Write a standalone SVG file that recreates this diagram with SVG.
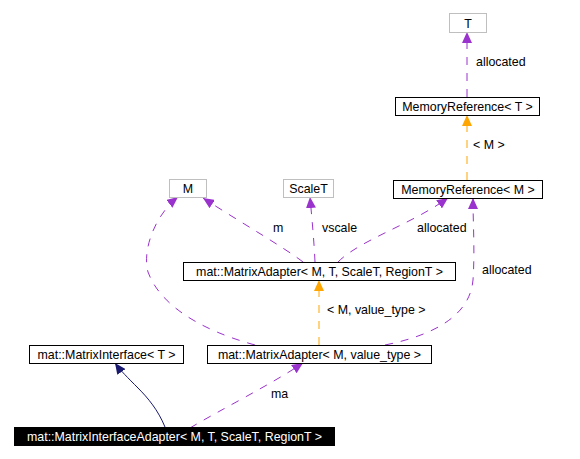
<svg xmlns="http://www.w3.org/2000/svg" width="580" height="459" viewBox="0 0 580 459">
<defs>
<style>
text{font-family:"Liberation Sans",Arial,sans-serif;font-size:12.4px;fill:#000}
.box{fill:#fff;stroke:#000;stroke-width:1}
.gray{fill:#fff;stroke:#bfbfbf;stroke-width:1}
.c{text-anchor:middle}
.p{fill:none;stroke:#9a32cd;stroke-width:1;stroke-dasharray:8,8}
.o{fill:none;stroke:#ffa500;stroke-width:1;stroke-dasharray:8,8}
.n{fill:none;stroke:#191970;stroke-width:1}
</style>
<marker id="ap" markerUnits="userSpaceOnUse" markerWidth="12" markerHeight="10" refX="11" refY="5" orient="auto"><path d="M0,0 L11,5 L0,10 Z" fill="#9a32cd"/></marker>
<marker id="ao" markerUnits="userSpaceOnUse" markerWidth="12" markerHeight="10" refX="11" refY="5" orient="auto"><path d="M0,0 L11,5 L0,10 Z" fill="#ffa500"/></marker>
<marker id="an" markerUnits="userSpaceOnUse" markerWidth="12" markerHeight="10" refX="11" refY="5" orient="auto"><path d="M0,0 L11,5 L0,10 Z" fill="#191970"/></marker>
</defs>
<rect width="580" height="459" fill="#fff"/>
<g id="connectors">
<path class="p" d="M467,97 L467,32" marker-end="url(#ap)"/>
<path class="o" d="M467,180 L467,115" marker-end="url(#ao)"/>
<path class="o" d="M319,345 L319,280" marker-end="url(#ao)"/>
<path class="p" d="M303,262 C285,248 240,222 203,198" marker-end="url(#ap)"/>
<path class="p" d="M315,262 C314,240 312,220 310,197" marker-end="url(#ap)"/>
<path class="p" d="M338,262 C360,240 410,225 448,198" marker-end="url(#ap)"/>
<path class="p" d="M255,345 C200,330 160,305 148,272 C142,250 155,215 178,197" marker-end="url(#ap)"/>
<path class="p" d="M385,345 C435,335 470,315 473,280 C475,250 473,225 473,198" marker-end="url(#ap)"/>
<path class="n" d="M165,427 C158,410 148,398 138,388 C128,378 120,370 115,363" marker-end="url(#an)"/>
<path class="p" d="M190,428 C220,410 270,385 303,363" marker-end="url(#ap)"/>
<text x="476" y="66">allocated</text>
<text x="473" y="149">&lt; M &gt;</text>
<text x="273" y="232">m</text>
<text x="322" y="232">vscale</text>
<text x="417" y="232">allocated</text>
<text x="389" y="275">m</text>
<text x="482" y="274">allocated</text>
<text x="327" y="314">&lt; M, value_type &gt;</text>
<text x="271" y="398">ma</text>
</g>
<g id="T"><rect class="gray" x="449.5" y="13.5" width="37" height="19"/><text class="c" x="468" y="27.5">T</text></g>
<g id="MemoryReferenceT"><rect class="box" x="395.5" y="97.5" width="144" height="18"/><text class="c" x="467.5" y="111">MemoryReference&lt; T &gt;</text></g>
<g id="M"><rect class="gray" x="169.5" y="179.5" width="37" height="18"/><text class="c" x="188" y="193">M</text></g>
<g id="ScaleT"><rect class="gray" x="283.5" y="179.5" width="50" height="18"/><text class="c" x="308.5" y="193">ScaleT</text></g>
<g id="MemoryReferenceM"><rect class="box" x="393.5" y="180.5" width="149" height="18"/><text class="c" x="468" y="194">MemoryReference&lt; M &gt;</text></g>
<g id="MatrixAdapterFull"><rect class="box" x="183.5" y="262.5" width="272" height="18"/><text class="c" x="319.5" y="276">mat::MatrixAdapter&lt; M, T, ScaleT, RegionT &gt;</text></g>
<g id="MatrixInterface"><rect class="box" x="29.5" y="345.5" width="154" height="18"/><text class="c" x="106.5" y="359">mat::MatrixInterface&lt; T &gt;</text></g>
<g id="MatrixAdapterVT"><rect class="box" x="207.5" y="345.5" width="224" height="18"/><text class="c" x="319.5" y="359">mat::MatrixAdapter&lt; M, value_type &gt;</text></g>
<g id="MatrixInterfaceAdapter"><rect x="14" y="427" width="321" height="19" fill="#000"/><text class="c" x="174.5" y="441" style="fill:#fff">mat::MatrixInterfaceAdapter&lt; M, T, ScaleT, RegionT &gt;</text></g>
</svg>
